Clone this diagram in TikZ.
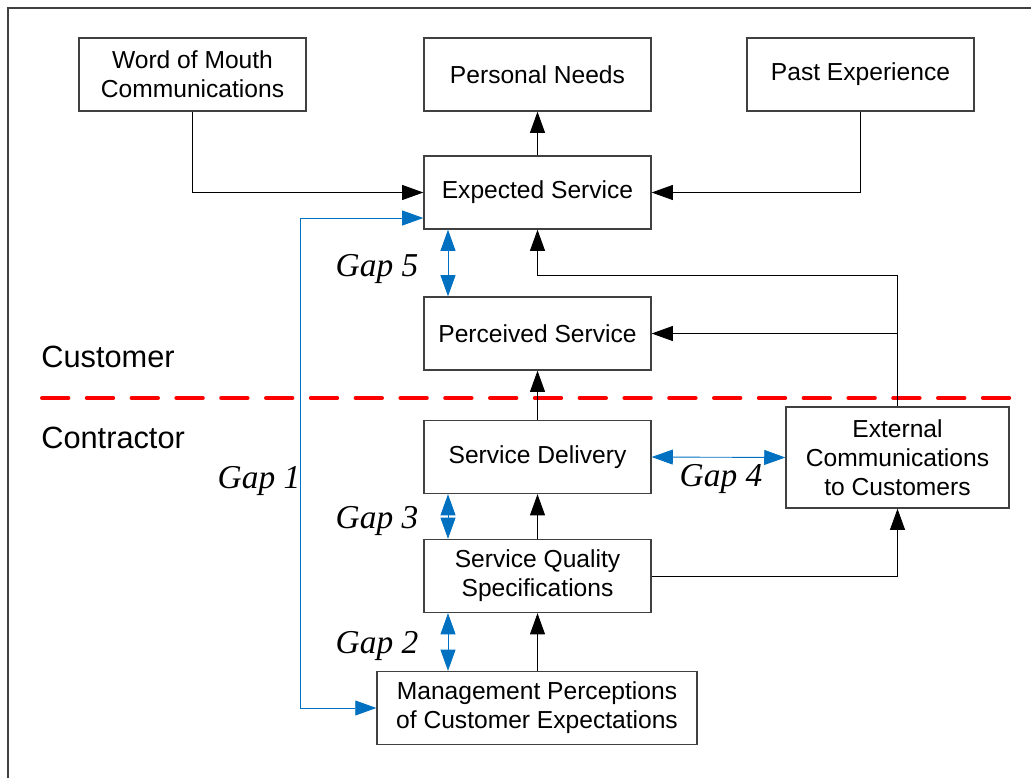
\documentclass[tikz,border=0pt]{standalone}
\usepackage{fontspec}
\setmainfont{Liberation Sans}
\newfontfamily\gapfont{Liberation Serif}
\usepackage{tikz}
\usetikzlibrary{arrows.meta, positioning}
\definecolor{gapblue}{RGB}{0,112,192}
\definecolor{linered}{RGB}{255,0,0}
\newcommand{\boxfont}{\fontsize{14}{16.5}\selectfont}

\tikzset{
  box/.style={draw=black!75, line width=0.8pt, fill=white, minimum width=4.54cm,
    minimum height=1.46cm, align=center, inner sep=2pt, font=\boxfont},
  flow/.style={-{Triangle[length=12pt,width=8.5pt]}, black, line width=0.5pt},
  gap/.style={{Triangle[length=12pt,width=8.5pt]}-{Triangle[length=12pt,width=8.5pt]},
    gapblue, line width=0.5pt},
  gaplabel/.style={font=\gapfont\itshape\fontsize{19}{21}\selectfont},
  side/.style={font=\fontsize{17.5}{20}\selectfont, anchor=west, inner sep=0pt}
}

\begin{document}
\begin{tikzpicture}[x=0.02cm, y=-0.02cm]
  \useasboundingbox (0,0) rectangle (1031,778);
  % frame
  \draw[black!75, line width=0.9pt] (8,778) -- (8,8) -- (1031,8);

  % customer side
  \node[box] (mouth) at (192.5,74.5) {Word of Mouth\\Communications};
  \node[box] (needs) at (537.5,74.5) {Personal Needs};
  \node[box] (past) at (860.5,74.5) {Past Experience};
  \node[box] (expected) at (537.5,192.5) {Expected Service};
  \node[box] (perceived) at (537.5,333.5) {Perceived Service};

  % contractor side
  \node[box] (delivery) at (537.5,457) {Service Delivery};
  \node[box] (specs) at (537.5,576) {Service Quality\\Specifications};
  \node[box, minimum width=6.4cm] (mgmt) at (537,708)
    {Management Perceptions\\of Customer Expectations};
  \node[box, minimum width=4.46cm, minimum height=2.02cm] (external) at (897.5,457.5)
    {External\\Communications\\to Customers};

  % dividing line
  \draw[linered, line width=2.3pt, line cap=round, dash pattern=on 15pt off 10.5pt]
    (42,398) -- (1010,398);
  \node[side] (customer) at (41,357) {Customer};
  \node[side] (contractor) at (41,438) {Contractor};

  % flows
  \draw[flow] (expected) -- (needs);
  \draw[flow] (mouth.south) |- (expected.west);
  \draw[flow] (past.south) |- (expected.east);
  \draw[flow] (delivery) -- (perceived);
  \draw[flow] (specs) -- (delivery);
  \draw[flow] (mgmt.north -| specs.south) -- (specs);
  \draw[flow] (specs.east) -| (external.south);
  \draw[flow] (external.north) |- (perceived.east);
  \draw[flow] (external.north) -- (external.north |- 0,275) -| (expected.south);

  % gaps
  \draw[gap] (mgmt.west) -| (300,218) -- (expected.west |- 0,218);
  \draw[gap] (expected.south -| 448,0) -- (perceived.north -| 448,0);
  \draw[gap] (delivery.south -| 448,0) -- (specs.north -| 448,0);
  \draw[gap] (specs.south -| 448,0) -- (mgmt.north -| 448,0);
  \draw[gap] (delivery.east) -- (external.west);

  \node[gaplabel] (gap1) at (259,481) {Gap 1};
  \node[gaplabel] (gap2) at (377,646) {Gap 2};
  \node[gaplabel] (gap3) at (377,521) {Gap 3};
  \node[gaplabel] (gap4) at (721,479) {Gap 4};
  \node[gaplabel] (gap5) at (377,269) {Gap 5};
\end{tikzpicture}
\end{document}
